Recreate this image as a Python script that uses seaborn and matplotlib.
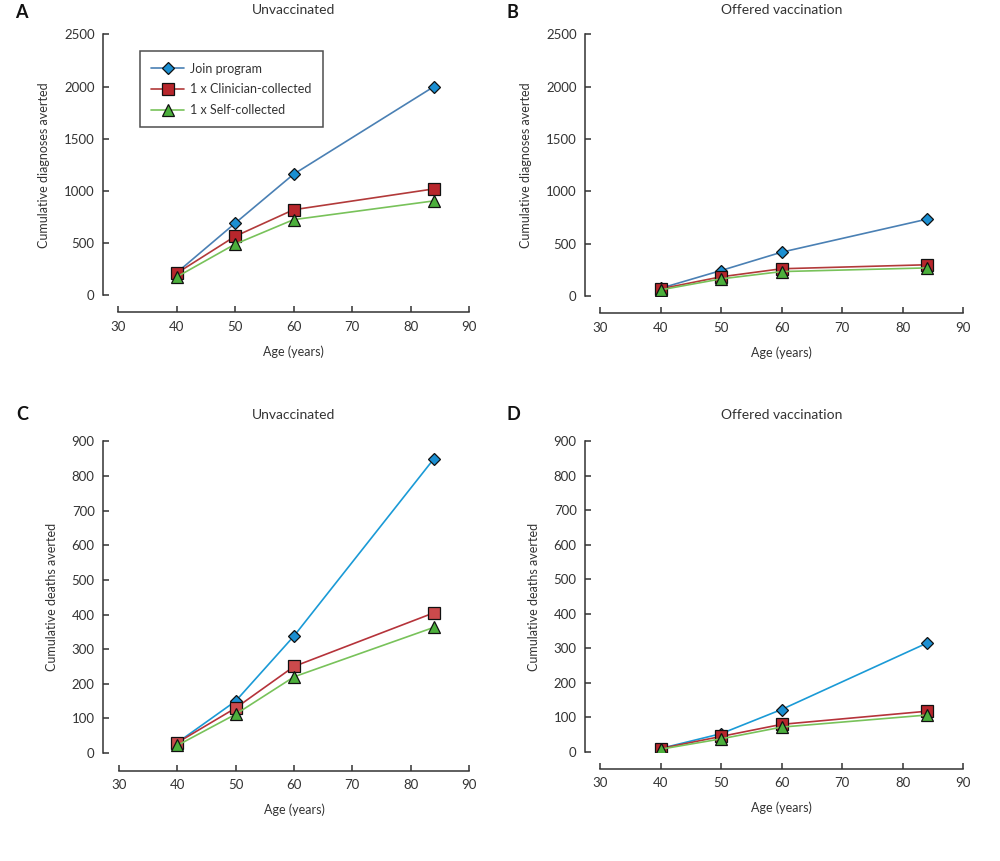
import matplotlib
matplotlib.use("Agg")
import matplotlib.pyplot as plt
import seaborn as sns

# ----------------------------------------------------------------
# Data
# ----------------------------------------------------------------
ages = [40, 50, 60, 84]
series_names = ["Join program", "1 x Clinician-collected", "1 x Self-collected"]

# A - diagnoses averted, unvaccinated
diag_unvax_join = [215, 690, 1160, 2000]
diag_unvax_clin = [210, 565, 820, 1020]
diag_unvax_self = [175, 490, 725, 905]

# B - diagnoses averted, offered vaccination
diag_vax_join = [75, 245, 420, 735]
diag_vax_clin = [70, 185, 262, 300]
diag_vax_self = [60, 165, 235, 270]

# C - deaths averted, unvaccinated
death_unvax_join = [30, 150, 338, 850]
death_unvax_clin = [30, 130, 250, 405]
death_unvax_self = [22, 112, 220, 363]

# D - deaths averted, offered vaccination
death_vax_join = [10, 53, 123, 315]
death_vax_clin = [10, 45, 80, 118]
death_vax_self = [8, 38, 72, 107]

x_ticks = [30, 40, 50, 60, 70, 80, 90]
diag_ticks = [0, 500, 1000, 1500, 2000, 2500]
death_ticks = [0, 100, 200, 300, 400, 500, 600, 700, 800, 900]

# ----------------------------------------------------------------
# Style
# ----------------------------------------------------------------
sns.set_theme(style="ticks")
plt.rcParams["font.family"] = ["Lato", "DejaVu Sans"]
TEXT = "#333333"

STYLES = {
    "Join program": dict(marker="D", ms=6.5, mfc="#1b8fd2"),
    "1 x Clinician-collected": dict(marker="s", ms=8, mfc="#b8262c"),
    "1 x Self-collected": dict(marker="^", ms=8, mfc="#4caf3c"),
}
LINE_TOP = {"Join program": "#4a80b4", "1 x Clinician-collected": "#b23a3a",
            "1 x Self-collected": "#78c25a"}
LINE_BOTTOM = {"Join program": "#1a9ad6", "1 x Clinician-collected": "#b5333a",
               "1 x Self-collected": "#78c25a"}

panels = [
    dict(letter="A", title="Unvaccinated", ylabel="Cumulative diagnoses averted",
         data=[diag_unvax_join, diag_unvax_clin, diag_unvax_self], yticks=diag_ticks,
         pos=[0.118, 0.657, 0.351, 0.303], lines=LINE_TOP, legend=True,
         xoff=17, yoff=15, tpad=15, square="#b8262c", lx=-0.103),
    dict(letter="B", title="Offered vaccination", ylabel="Cumulative diagnoses averted",
         data=[diag_vax_join, diag_vax_clin, diag_vax_self], yticks=diag_ticks,
         pos=[0.600, 0.656, 0.363, 0.304], lines=LINE_TOP, legend=False,
         xoff=17, yoff=15, tpad=15, square="#b8262c", lx=-0.094),
    dict(letter="C", title="Unvaccinated", ylabel="Cumulative deaths averted",
         data=[death_unvax_join, death_unvax_clin, death_unvax_self], yticks=death_ticks,
         pos=[0.119, 0.1254, 0.350, 0.362], lines=LINE_BOTTOM, legend=False,
         xoff=18, yoff=16, tpad=16, square="#cc4a4c", lx=-0.103),
    dict(letter="D", title="Offered vaccination", ylabel="Cumulative deaths averted",
         data=[death_vax_join, death_vax_clin, death_vax_self], yticks=death_ticks,
         pos=[0.600, 0.1266, 0.363, 0.361], lines=LINE_BOTTOM, legend=False,
         xoff=17, yoff=15, tpad=16, square="#b8262c", lx=-0.093),
]

fig = plt.figure(figsize=(10, 8.61), dpi=100)

for p in panels:
    ax = fig.add_axes(p["pos"])
    for name, values in zip(series_names, p["data"]):
        st = STYLES[name]
        face = p["square"] if st["marker"] == "s" else st["mfc"]
        sns.lineplot(x=ages, y=values, ax=ax, color=p["lines"][name], linewidth=1.2,
                     marker=st["marker"], markersize=st["ms"],
                     markerfacecolor=face, markeredgecolor="#111111",
                     markeredgewidth=0.9, label=name, legend=False, zorder=3)

    ax.set_xlim(30, 90)
    ax.set_ylim(p["yticks"][0], p["yticks"][-1])
    ax.set_xticks(x_ticks)
    ax.set_yticks(p["yticks"])
    ax.set_facecolor("none")

    sns.despine(ax=ax)
    ax.spines["left"].set_position(("outward", p["yoff"] * 0.72))
    ax.spines["bottom"].set_position(("outward", p["xoff"] * 0.72))
    for side in ("left", "bottom"):
        ax.spines[side].set_color(TEXT)
        ax.spines[side].set_linewidth(1.1)
    ax.tick_params(axis="both", direction="in", length=4, width=1.1,
                   colors=TEXT, labelsize=9.5, labelcolor=TEXT, pad=6)

    ax.set_xlabel("Age (years)", fontsize=9, color=TEXT, labelpad=9)
    ax.set_ylabel(p["ylabel"], fontsize=9, color=TEXT, labelpad=10)
    ax.set_title(p["title"], fontsize=10, color=TEXT, pad=p["tpad"])

    bbox = ax.get_position()
    dy = 0.0155 if p["letter"] in "AB" else 0.0215
    fig.text(bbox.x0 + p["lx"], bbox.y1 + dy, p["letter"], fontsize=13,
             fontweight="bold", color="#111111", ha="left", va="bottom")

    if p["legend"]:
        leg = ax.legend(loc="upper left", bbox_to_anchor=(0.063, 0.935), fontsize=9,
                        frameon=True, fancybox=False, edgecolor="#222222",
                        handlelength=2.6, borderpad=0.9, labelspacing=0.7,
                        handletextpad=0.5, borderaxespad=0)
        leg.get_frame().set_linewidth(1.1)
        for t in leg.get_texts():
            t.set_color(TEXT)

fig.savefig("out.png", dpi=100)
